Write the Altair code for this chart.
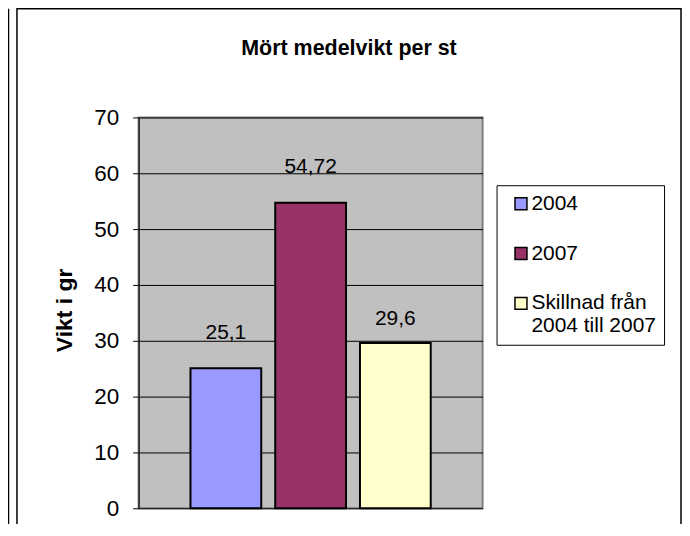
import altair as alt
import pandas as pd

# Data
series = ["2004", "2007", "Skillnad från\n2004 till 2007"]
values = [25.1, 54.72, 29.6]
colors = ["#9999FF", "#993366", "#FFFFCC"]
y_ticks = [0, 10, 20, 30, 40, 50, 60, 70]

FONT = "Liberation Sans"

df = pd.DataFrame({"serie": series, "vikt": values})

base = alt.Chart(df).transform_calculate(
    etikett="replace(toString(datum.vikt), '.', ',')"
)

x_enc = alt.X(
    "serie:N",
    sort=series,
    axis=None,
    scale=alt.Scale(paddingInner=0.165, paddingOuter=0.612),
)
y_enc = alt.Y(
    "vikt:Q",
    scale=alt.Scale(domain=[0, 70], nice=False),
    axis=alt.Axis(
        values=y_ticks,
        title="Vikt i gr",
        titleFont=FONT,
        titleFontSize=23,
        titleFontWeight="bold",
        titleColor="black",
        titleX=-74,
        titleY=193,
        titleAngle=270,
        titleBaseline="middle",
        labelFont=FONT,
        labelFontSize=22.5,
        labelColor="black",
        labelPadding=14,
        tickSize=6,
        tickColor="black",
        tickWidth=1,
        domainColor="#222222",
        domainWidth=1.5,
        grid=True,
        gridColor="black",
        gridWidth=1,
        gridOpacity=1,
    ),
)

bars = base.mark_bar(stroke="black", strokeWidth=2).encode(
    x=x_enc,
    y=y_enc,
    color=alt.Color(
        "serie:N",
        sort=series,
        scale=alt.Scale(domain=series, range=colors),
        legend=alt.Legend(
            title=None,
            orient="none",
            legendX=359,
            legendY=68,
            direction="vertical",
            symbolType="square",
            symbolSize=144,
            symbolStrokeColor="black",
            symbolStrokeWidth=1.5,
            symbolOffset=6,
            labelFont=FONT,
            labelFontSize=21,
            labelColor="black",
            labelOffset=0,
            labelLimit=300,
            labelExpr="split(datum.label, '\\n')",
            rowPadding=28,
            padding=8,
            strokeColor="black",
            fillColor="white",
        ),
    ),
)

label_offsets = {series[0]: -35, series[1]: -36, series[2]: -24}
labels = []
for s in series:
    labels.append(
        base.transform_filter(alt.datum.serie == s)
        .mark_text(dy=label_offsets[s], font=FONT, fontSize=21, color="black")
        .encode(x=x_enc, y=alt.Y("vikt:Q"), text="etikett:N")
    )

frame_data = alt.Data(values=[{"k": 1}])
border = alt.Chart(frame_data).mark_rect(
    fill=None, filled=False, stroke="black", strokeWidth=1.5
).encode(
    x=alt.value(-122), x2=alt.value(544), y=alt.value(-109), y2=alt.value(600)
)
prev_edge = alt.Chart(frame_data).mark_rule(color="black", strokeWidth=1.5).encode(
    x=alt.value(-130.5), y=alt.value(-109), y2=alt.value(600)
)

chart = alt.layer(bars, *labels, border, prev_edge).properties(
    width=345,
    height=392,
    title=alt.TitleParams(
        text="Mört medelvikt per st",
        font=FONT,
        fontSize=21.5,
        fontWeight="bold",
        color="black",
        anchor="middle",
        frame="group",
        baseline="alphabetic",
        dx=38.5,
        offset=-69,
    ),
    autosize=alt.AutoSizeParams(type="none"),
    padding={"left": 131, "top": 109, "right": 200, "bottom": 15},
).configure(
    background="white",
    view=alt.ViewConfig(fill="#C0C0C0", stroke="#808080", strokeWidth=2),
)

chart.save("out.html", embed_options={"renderer": "svg", "actions": False})
